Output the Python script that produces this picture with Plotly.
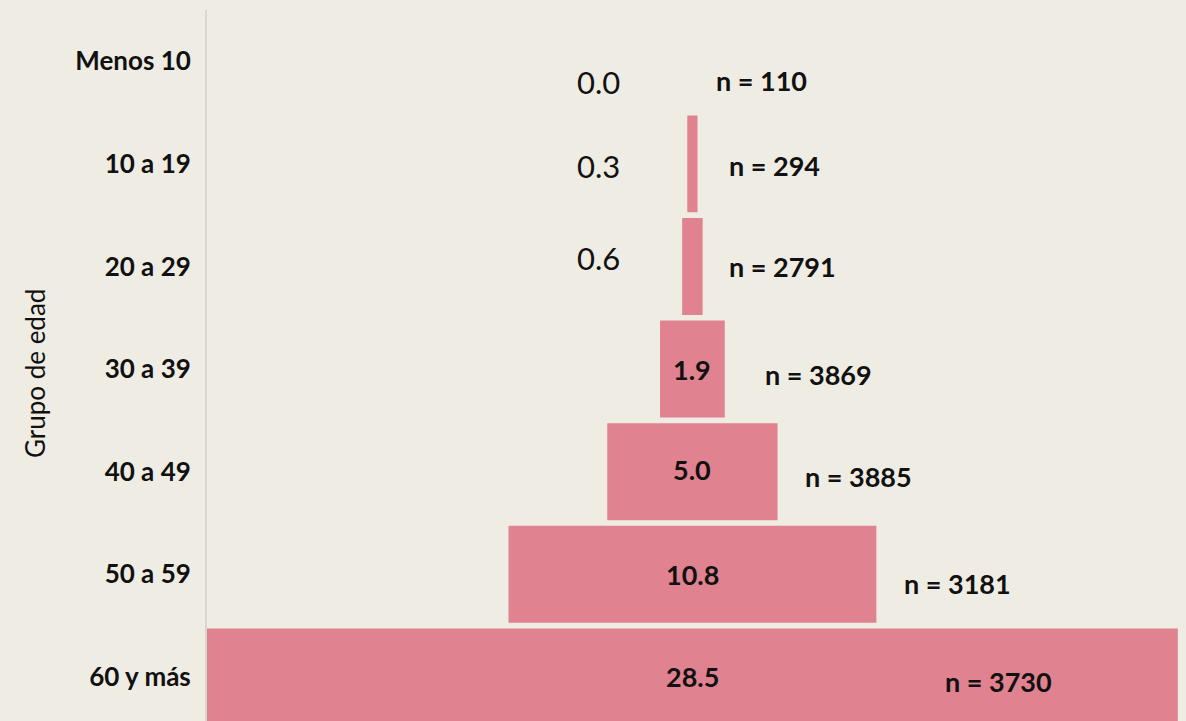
import plotly.graph_objects as go

categories = ["Menos 10", "10 a 19", "20 a 29", "30 a 39", "40 a 49", "50 a 59", "60 y más"]
values = [0.0, 0.3, 0.6, 1.9, 5.0, 10.8, 28.5]
n_labels = ["n = 110", "n = 294", "n = 2791", "n = 3869", "n = 3885", "n = 3181", "n = 3730"]

# styling / label offsets (pixels)
n_xshift = [22, 29, 24, 38, 25, 26, -235]
n_yshift = [-19, -2, 0, -5, -5, -9, -5]
v_yshift = [-21, -2, 8, 0, 2, 0, 0]
inside_threshold = 1.0

BG = "#EFECE4"
BAR = "#E08290"
FONT = "Lato"

fig = go.Figure()
fig.add_trace(go.Bar(
    y=categories,
    x=values,
    base=[-v / 2 for v in values],
    orientation="h",
    marker=dict(color=BAR, line=dict(width=0)),
    width=0.945,
    hoverinfo="skip",
))

annotations = []
for cat, v, nl, nx, ny, vy in zip(categories, values, n_labels, n_xshift, n_yshift, v_yshift):
    annotations.append(dict(
        x=v / 2, y=cat, xref="x", yref="y", text="<b>" + nl + "</b>",
        showarrow=False, xanchor="left", yanchor="middle", xshift=nx, yshift=ny,
        font=dict(family=FONT, size=27, color="#111111"),
    ))
    if v >= inside_threshold:
        annotations.append(dict(
            x=0, y=cat, xref="x", yref="y", text="<b>%.1f</b>" % v,
            showarrow=False, xanchor="center", yanchor="middle", yshift=vy,
            font=dict(family=FONT, size=27, color="#111111"),
        ))
    else:
        annotations.append(dict(
            x=0, y=cat, xref="x", yref="y", text="%.1f" % v,
            showarrow=False, xanchor="left", yanchor="middle", xshift=-117, yshift=vy,
            font=dict(family=FONT, size=31, color="#111111"),
        ))

annotations.append(dict(
    x=0, y=0.488, xref="paper", yref="paper", text="Grupo de edad",
    showarrow=False, textangle=-90, xanchor="center", yanchor="middle", xshift=-172,
    font=dict(family=FONT, size=26, color="#111111"),
))

fig.update_layout(
    width=1186, height=721,
    paper_bgcolor=BG, plot_bgcolor=BG,
    margin=dict(l=207, r=0, t=10, b=0),
    showlegend=False,
    annotations=annotations,
    xaxis=dict(range=[-14.25, 14.49], visible=False, fixedrange=True),
    yaxis=dict(
        categoryorder="array", categoryarray=categories,
        range=[6.43, -0.5],
        showgrid=False, zeroline=False,
        showline=True, linecolor="#D9D6D0", linewidth=2,
        ticks="", ticklabelstandoff=9,
        tickfont=dict(family=FONT, size=26, color="#111111", weight="bold"),
    ),
    font=dict(family=FONT),
)

fig.write_html(
    "out.html",
    config={"displayModeBar": False},
    post_script="document.body.style.margin='0';document.body.style.background='%s';" % BG,
)
